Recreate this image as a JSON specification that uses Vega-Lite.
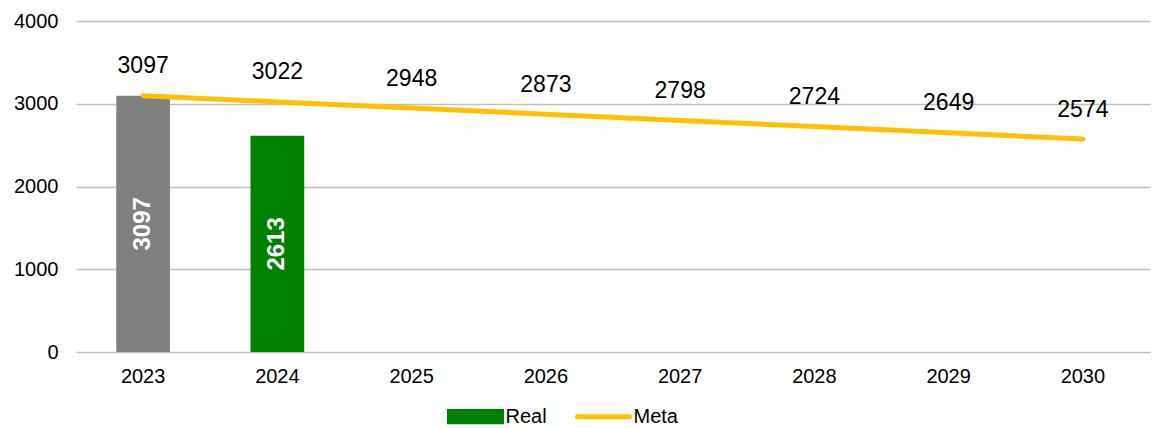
{
  "$schema": "https://vega.github.io/schema/vega-lite/v6.json",
  "width": 1074,
  "height": 331,
  "autosize": "none",
  "padding": {"left": 76, "top": 21, "right": 9, "bottom": 76},
  "background": "white",
  "config": {
    "font": "Liberation Sans",
    "view": {"stroke": null}
  },
  "data": {
    "values": [
      {"year": "2023", "real": 3097, "meta": 3097},
      {"year": "2024", "real": 2613, "meta": 3022},
      {"year": "2025", "real": null, "meta": 2948},
      {"year": "2026", "real": null, "meta": 2873},
      {"year": "2027", "real": null, "meta": 2798},
      {"year": "2028", "real": null, "meta": 2724},
      {"year": "2029", "real": null, "meta": 2649},
      {"year": "2030", "real": null, "meta": 2574}
    ]
  },
  "encoding": {
    "x": {
      "field": "year",
      "type": "ordinal",
      "scale": {"paddingInner": 0.6, "paddingOuter": 0.3},
      "axis": {
        "title": null,
        "labelAngle": 0,
        "labelFontSize": 20,
        "labelColor": "#000000",
        "labelFont": "Liberation Sans",
        "ticks": false,
        "domain": false,
        "labelPadding": 14
      }
    }
  },
  "layer": [
    {
      "mark": {"type": "bar"},
      "encoding": {
        "y": {
          "field": "real",
          "type": "quantitative",
          "scale": {"domain": [0, 4000]},
          "axis": {
            "title": null,
            "values": [0, 1000, 2000, 3000, 4000],
            "format": "d",
            "labelFontSize": 20,
            "labelColor": "#000000",
            "labelFont": "Liberation Sans",
            "ticks": false,
            "domain": false,
            "labelPadding": 18,
            "gridColor": "#BFBFBF",
            "gridWidth": 1.5
          }
        },
        "color": {
          "condition": {"test": "datum.year === '2023'", "value": "#7F7F7F"},
          "datum": "Real",
          "type": "nominal",
          "scale": {"domain": ["Real", "Meta"], "range": ["#008000", "#FFC000"]},
          "legend": {
            "orient": "none",
            "legendX": 371,
            "legendY": 367,
            "direction": "horizontal",
            "title": null,
            "labelFontSize": 20,
            "labelColor": "#000000",
            "labelFont": "Liberation Sans",
            "symbolSize": 2704,
            "labelOffset": 1.5,
            "columnPadding": 20,
            "encode": {
              "symbols": {
                "update": {
                  "shape": {"signal": "datum.value === 'Meta' ? 'M-1,-0.2M-1,0H1M1,0.2' : 'M-1,-0.2H1V0.2H-1Z'"},
                  "fill": {"signal": "datum.value === 'Meta' ? 'transparent' : '#008000'"},
                  "stroke": {"signal": "datum.value === 'Meta' ? '#FFC000' : 'transparent'"},
                  "strokeWidth": {"value": 5},
                  "strokeCap": {"value": "round"},
                  "opacity": {"value": 1}
                }
              }
            }
          }
        }
      }
    },
    {
      "mark": {"type": "line", "strokeWidth": 5, "strokeCap": "round"},
      "encoding": {
        "y": {"field": "meta", "type": "quantitative", "scale": {"domain": [0, 4000]}, "axis": null},
        "color": {"datum": "Meta", "type": "nominal"}
      }
    },
    {
      "mark": {"type": "text", "fontSize": 23, "color": "#000000", "baseline": "alphabetic", "dy": -22.5, "font": "Liberation Sans"},
      "encoding": {
        "y": {"field": "meta", "type": "quantitative", "scale": {"domain": [0, 4000]}, "axis": null},
        "text": {"field": "meta", "type": "quantitative", "format": "d"}
      }
    },
    {
      "mark": {"type": "text", "fontSize": 24, "fontWeight": "bold", "color": "#FFFFFF", "angle": 270, "baseline": "middle", "align": "center", "font": "Liberation Sans"},
      "encoding": {
        "y": {"field": "real", "type": "quantitative", "scale": {"domain": [0, 8000]}, "axis": null},
        "text": {"field": "real", "type": "quantitative", "format": "d"}
      }
    }
  ],
  "resolve": {"scale": {"y": "independent"}}
}
